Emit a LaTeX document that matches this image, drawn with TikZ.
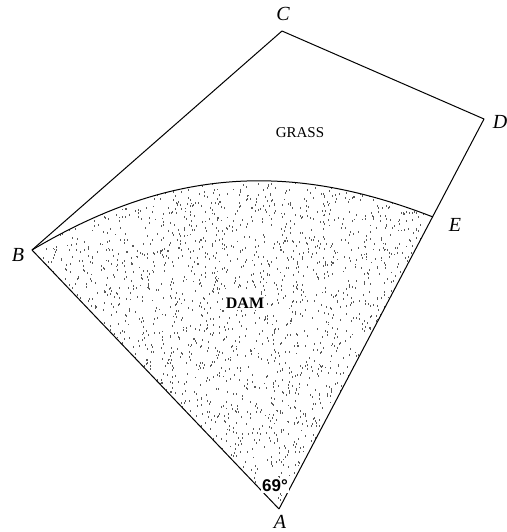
\documentclass[tikz,border=0pt]{standalone}
\usepackage{fontspec}
\setmainfont{Liberation Serif}
\newfontfamily\anglefont{Liberation Sans}
\usepackage{tikz}

\begin{document}
\begin{tikzpicture}[x=1pt, y=-1pt, line width=1pt, line join=round,
  every node/.style={inner sep=0pt},
  pointlabel/.style={font=\fontsize{20}{22}\selectfont\itshape},
  regionlabel/.style={font=\fontsize{15}{17}\selectfont}]
  \useasboundingbox (0,0) rectangle (506,532);
  \coordinate (A) at (279,509);
  \coordinate (B) at (32,250);
  \coordinate (C) at (282,31);
  \coordinate (D) at (484,119);
  \coordinate (E) at (433,217);
  % speckled dam
  \begin{scope}
    \clip (B) to[bend left=26] (E) -- (A) -- cycle;
    \pgfmathsetseed{69}
    \foreach \i in {1,...,3200}{
      \pgfmathsetmacro{\px}{33+400*rnd}
      \pgfmathsetmacro{\py}{182+327*rnd}
      \fill[black!65] (\px,\py) rectangle ++(0.9,1.9);
    }
  \end{scope}
  \draw (B) to[bend left=26] (E);
  \draw (A) -- (B) -- (C) -- (D) -- (A);
  \node (labA) at (280,522) [pointlabel] {A};
  \node (labB) at (18,255) [pointlabel] {B};
  \node (labC) at (283,14) [pointlabel] {C};
  \node (labD) at (500,122) [pointlabel] {D};
  \node (labE) at (455,225) [pointlabel] {E};
  \node (grass) at (300,133) [regionlabel] {GRASS};
  \node (dam) at (245,303) [regionlabel, font=\fontsize{16}{18}\selectfont\bfseries, fill=white, inner sep=1.5pt] {DAM};
  \node (angA) at (275,486) [font=\fontsize{17}{19}\selectfont\anglefont\bfseries, fill=white, inner sep=1pt] {69°};
\end{tikzpicture}
\end{document}
